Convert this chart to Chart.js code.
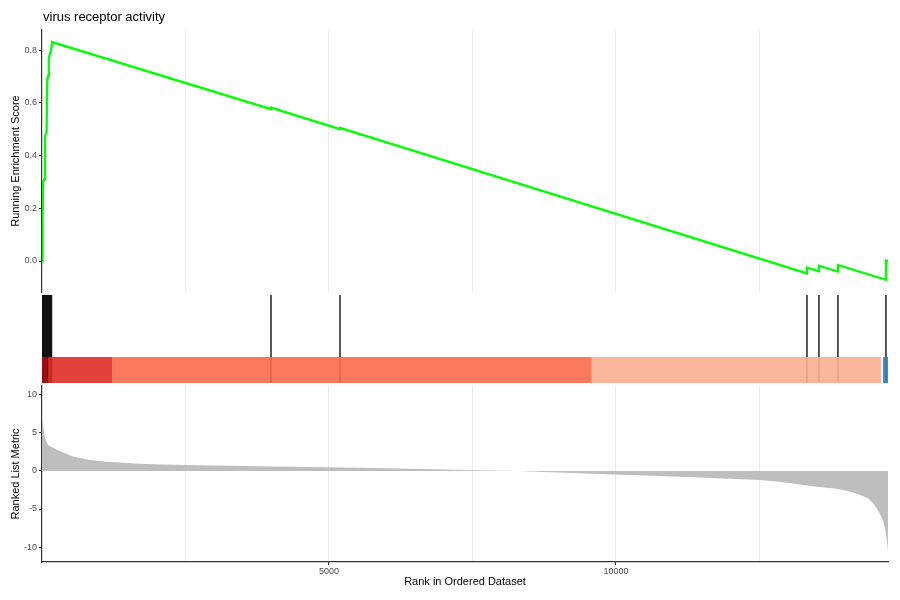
<!DOCTYPE html>
<html>
<head>
<meta charset="utf-8">
<script src="https://cdn.jsdelivr.net/npm/chart.js@4.4.1/dist/chart.umd.min.js"></script>
<style>
  body { margin: 0; background: #fff; }
  #wrap { position: relative; width: 900px; height: 600px; }
  canvas { position: absolute; left: 0; }
</style>
</head>
<body>
<div id="wrap">
  <canvas id="es" width="900" height="295" style="top:0"></canvas>
  <canvas id="hits" width="900" height="92" style="top:292px"></canvas>
  <canvas id="metric" width="900" height="217" style="top:383px"></canvas>
</div>
<script>
const plotTitle = "virus receptor activity";
const rankMax = 14740;

// running enrichment score
const esRank = [0, 6, 10, 18, 40, 52, 62, 80, 92, 105, 118, 130, 145, 160, 175,
  3990, 3990, 5192, 5192, 13328, 13328, 13537, 13537, 13868, 13868, 14704, 14704, 14740];
const esScore = [0, 0.09, 0.13, 0.30, 0.31, 0.47, 0.48, 0.49, 0.69, 0.70, 0.77, 0.78, 0.79, 0.80, 0.83,
  0.576, 0.582, 0.500, 0.505, -0.047, -0.025, -0.039, -0.018, -0.040, -0.015, -0.071, 0.002, 0];

// positions of gene set members in the ranked list
const hitRanks = [1, 5, 9, 13, 18, 23, 28, 34, 40, 46, 52, 58, 64, 70, 77, 84, 91, 98, 105,
  112, 120, 128, 136, 144, 152, 160, 166,
  3990, 5192, 13328, 13537, 13868, 14704];

// heat band under the hits
const bandStart = [0, 95, 1220, 9580, 14617, 14652];
const bandEnd = [95, 1220, 9580, 14617, 14652, 14740];
const bandColor = ["#A50F15", "#DE2D26", "#FB6A4A", "#FCAE91", "#EFF3FF", "#3182BD"];

// ranked list metric
const metricRank = [0, 12, 52, 110, 256, 540, 836, 1132, 1707, 2056, 3000, 4000, 5000, 6000, 7000,
  7800, 8300, 9000, 9720, 10500, 11460, 12500, 12857, 13432, 13800, 14024, 14200, 14390, 14480,
  14547, 14610, 14652, 14690, 14715, 14732, 14740];
const metricValue = [6.6, 6.2, 4.3, 3.4, 2.8, 1.9, 1.45, 1.2, 0.95, 0.85, 0.72, 0.6, 0.5, 0.36, 0.2,
  0.05, 0, -0.2, -0.4, -0.6, -0.85, -1.2, -1.4, -2.0, -2.3, -2.6, -3.0, -3.6, -4.2,
  -5.0, -5.8, -6.5, -7.6, -8.8, -9.8, -10.8];

const esTicks = [0, 0.2, 0.4, 0.6, 0.8];
const metricTicks = [-10, -5, 0, 5, 10];
const rankLabels = [5000, 10000];
const rankGrid = [2500, 5000, 7500, 10000, 12500];

Chart.defaults.font.family = "'Liberation Sans', Arial, sans-serif";
Chart.defaults.animation = false;
Chart.defaults.responsive = false;
Chart.defaults.plugins.legend.display = false;
Chart.defaults.plugins.tooltip.enabled = false;

const AXIS = "#333333";
const GRID = "#ebebeb";
const tickFont = { size: 9 };
const titleFont = { size: 11 };

// keep every panel's plot area at the same left edge, no label overhang padding
function fixWidth(s) {
  s.width = 42;
  s.paddingTop = 0;
  s.paddingBottom = 0;
}
function noPad(s) {
  s.paddingLeft = 0;
  s.paddingRight = 0;
}
function onlyTicks(list) {
  return s => { s.ticks = list.map(v => ({ value: v })); };
}

const titlePlugin = {
  id: "plotTitle",
  afterDraw(chart) {
    const c = chart.ctx;
    c.save();
    c.font = "13px 'Liberation Sans', Arial, sans-serif";
    c.fillStyle = "#000";
    c.textBaseline = "alphabetic";
    c.fillText(plotTitle, chart.chartArea.left + 1, 21);
    c.restore();
  }
};

// top panel
new Chart(document.getElementById("es"), {
  type: "line",
  data: {
    datasets: [{
      data: esRank.map((r, i) => ({ x: r, y: esScore[i] })),
      borderColor: "#00ff00",
      borderWidth: 2.3,
      pointRadius: 0,
      tension: 0
    }]
  },
  options: {
    layout: { padding: { top: 30, bottom: 3, right: 12, left: 0 } },
    scales: {
      x: {
        type: "linear", min: 0, max: rankMax,
        afterBuildTicks: onlyTicks(rankGrid),
        afterFit: s => { s.height = 0; noPad(s); },
        ticks: { display: false },
        grid: { color: GRID, lineWidth: 1, drawTicks: false },
        border: { display: false }
      },
      y: {
        min: -0.1175, max: 0.876,
        afterBuildTicks: onlyTicks(esTicks),
        afterFit: fixWidth,
        ticks: { color: "#4d4d4d", font: tickFont, padding: 2, callback: v => v.toFixed(1) },
        grid: { drawOnChartArea: false, tickLength: 3, tickColor: AXIS },
        border: { display: true, color: AXIS, width: 1.2 },
        title: { display: true, text: "Running Enrichment Score", color: "#000", font: titleFont, padding: { top: 9, bottom: 0 } }
      }
    }
  },
  plugins: [titlePlugin]
});

// middle panel: hits and heat band
const hitPoints = [];
hitRanks.forEach(r => { hitPoints.push({ x: r, y: 0 }, { x: r, y: 1 }, { x: r, y: null }); });
const bandSets = bandStart.map((s, i) => ({
  data: [{ x: s, y: 0.295 }, { x: bandEnd[i], y: 0.295 }],
  borderWidth: 0,
  pointRadius: 0,
  fill: "origin",
  backgroundColor: bandColor[i] + "E6",
  order: 0
}));
new Chart(document.getElementById("hits"), {
  type: "line",
  data: {
    datasets: [{
      data: hitPoints,
      borderColor: "#111",
      borderWidth: 1.4,
      pointRadius: 0,
      spanGaps: false,
      order: 1
    }].concat(bandSets)
  },
  options: {
    layout: { padding: { top: 3, bottom: 1, right: 12, left: 0 } },
    scales: {
      x: { type: "linear", min: 0, max: rankMax, display: false },
      y: {
        min: 0, max: 1,
        afterFit: fixWidth,
        ticks: { display: false },
        grid: { display: false },
        border: { display: false }
      }
    }
  }
});

// bottom panel: ranked list metric
new Chart(document.getElementById("metric"), {
  type: "line",
  data: {
    datasets: [{
      data: metricRank.map((r, i) => ({ x: r, y: metricValue[i] })),
      borderWidth: 0,
      pointRadius: 0,
      fill: "origin",
      backgroundColor: "#bebebe",
      tension: 0
    }]
  },
  options: {
    layout: { padding: { top: 3, bottom: 0, right: 12, left: 0 } },
    scales: {
      x: {
        type: "linear", min: 0, max: rankMax,
        afterBuildTicks: onlyTicks(rankGrid),
        afterFit: s => { s.height = 38; noPad(s); },
        ticks: {
          color: "#4d4d4d", font: tickFont, padding: 1, maxRotation: 0, autoSkip: false,
          callback: v => rankLabels.includes(v) ? String(v) : ""
        },
        grid: {
          color: GRID, lineWidth: 1, tickLength: 3,
          tickColor: c => rankLabels.includes(c.tick && c.tick.value) ? AXIS : "rgba(0,0,0,0)"
        },
        border: { display: true, color: AXIS, width: 1.2 },
        title: { display: true, text: "Rank in Ordered Dataset", color: "#000", font: titleFont, padding: { top: 0, bottom: 11 } }
      },
      y: {
        min: -11.97, max: 11.18,
        afterBuildTicks: onlyTicks(metricTicks),
        afterFit: fixWidth,
        ticks: { color: "#4d4d4d", font: tickFont, padding: 2 },
        grid: { drawOnChartArea: false, tickLength: 3, tickColor: AXIS },
        border: { display: true, color: AXIS, width: 1.2 },
        title: { display: true, text: "Ranked List Metric", color: "#000", font: titleFont, padding: { top: 9, bottom: 0 } }
      }
    }
  }
});
</script>
</body>
</html>
